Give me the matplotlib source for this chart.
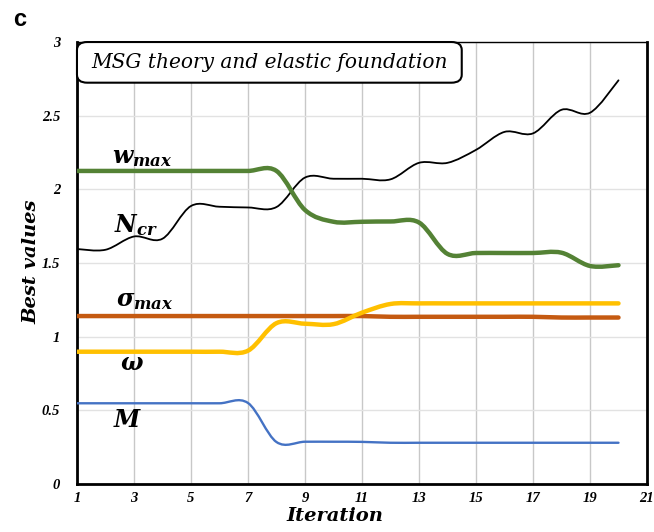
import numpy as np
import matplotlib
matplotlib.use("Agg")
from matplotlib import pyplot as plt
from matplotlib.path import Path
from matplotlib.patches import PathPatch, FancyBboxPatch

plt.rcParams["mathtext.fontset"] = "custom"
plt.rcParams["mathtext.it"] = "DejaVu Serif:italic:bold"
plt.rcParams["mathtext.rm"] = "DejaVu Serif:bold"
plt.rcParams["mathtext.bf"] = "DejaVu Serif:bold"

iteration = list(range(1, 21))
n_cr = [1.595, 1.59, 1.68, 1.665, 1.887, 1.882, 1.877, 1.88, 2.08, 2.072,
        2.072, 2.068, 2.18, 2.18, 2.268, 2.39, 2.38, 2.54, 2.52, 2.74]
w_max = [2.125, 2.125, 2.125, 2.125, 2.125, 2.125, 2.125, 2.125, 1.86, 1.78,
         1.78, 1.782, 1.775, 1.562, 1.568, 1.568, 1.568, 1.57, 1.48, 1.485]
sigma_max = [1.14] * 11 + [1.135] * 6 + [1.13] * 3
omega = [0.898, 0.898, 0.898, 0.898, 0.898, 0.898, 0.905, 1.092, 1.088, 1.085,
         1.163, 1.222, 1.226, 1.226, 1.226, 1.226, 1.226, 1.226, 1.226, 1.226]
m_val = [0.548, 0.548, 0.548, 0.548, 0.548, 0.548, 0.55, 0.285, 0.287, 0.287,
         0.286, 0.28, 0.28, 0.28, 0.28, 0.28, 0.28, 0.28, 0.28, 0.28]

x_ticks = list(range(1, 22, 2))
y_ticks = [0, 0.5, 1, 1.5, 2, 2.5, 3]
y_tick_labels = ["0", "0.5", "1", "1.5", "2", "2.5", "3"]


def smooth_path(xs, ys):
    """Bezier path through the points, same smoothing as spreadsheet charts."""
    pts = np.column_stack([xs, ys]).astype(float)
    verts = [pts[0]]
    codes = [Path.MOVETO]
    n = len(pts)
    for i in range(n - 1):
        p0 = pts[i - 1] if i > 0 else pts[i]
        p1 = pts[i]
        p2 = pts[i + 1]
        p3 = pts[i + 2] if i + 2 < n else pts[i + 1]
        c1 = p1 + (p2 - p0) / 6.0
        c2 = p2 - (p3 - p1) / 6.0
        verts += [c1, c2, p2]
        codes += [Path.CURVE4] * 3
    return Path(verts, codes)


series = [
    (n_cr, "#000000", 1.3),
    (w_max, "#548235", 3.2),
    (sigma_max, "#C55A11", 3.2),
    (omega, "#FFC000", 3.2),
    (m_val, "#4472C4", 1.7),
]

fig = plt.figure(figsize=(6.54, 5.32), dpi=100)
ax = fig.add_axes([0.1177, 0.0902, 0.8716, 0.8308])

for ys, color, lw in series:
    ax.add_patch(PathPatch(smooth_path(iteration, ys), facecolor="none",
                           edgecolor=color, lw=lw, capstyle="round", zorder=3))

ax.set_xlim(1, 21)
ax.set_ylim(0, 3)
ax.set_xticks(x_ticks)
ax.set_yticks(y_ticks)
ax.set_yticklabels(y_tick_labels)
ax.tick_params(length=0)
ax.tick_params(axis="x", pad=6)
ax.tick_params(axis="y", pad=12)
for lab in ax.get_xticklabels() + ax.get_yticklabels():
    lab.set_fontfamily("Liberation Serif")
    lab.set_fontstyle("italic")
    lab.set_fontweight("bold")
    lab.set_fontsize(10.5)

ax.xaxis.grid(True, color="#c8c8c8", lw=1.0, zorder=0)
ax.yaxis.grid(True, color="#e2e2e2", lw=1.0, zorder=0)
ax.set_axisbelow(True)
for side in ["left", "bottom", "right"]:
    ax.spines[side].set_linewidth(2.0)
ax.spines["top"].set_linewidth(1.0)

label_font = dict(family="DejaVu Serif", style="italic", weight="bold", size=14)
ax.set_xlabel("Iteration", **label_font)
ax.set_ylabel("Best values", **label_font)
ax.xaxis.set_label_coords(0.453, -0.052)
ax.yaxis.set_label_coords(-0.064, 0.503)

curve_font = dict(fontsize=17, ha="left", va="center")
ax.text(2.24, 2.22, r"$w_{max}$", **curve_font)
ax.text(2.30, 1.76, r"$N_{cr}$", **curve_font)
ax.text(2.38, 1.25, r"$\sigma_{max}$", **curve_font)
ax.text(2.93, 0.82, r"$\omega$", fontsize=17, ha="center", va="center")
ax.text(2.79, 0.434, r"$M$", fontsize=17, ha="center", va="center")

box = FancyBboxPatch((0.0, 0.908), 0.675, 0.092,
                     boxstyle="round,pad=0,rounding_size=0.018",
                     transform=ax.transAxes, facecolor="white",
                     edgecolor="black", lw=1.5, zorder=5, clip_on=False)
ax.add_patch(box)
ax.text(0.3375, 0.954, "MSG theory and elastic foundation",
        transform=ax.transAxes, ha="center", va="center", zorder=6,
        family="DejaVu Serif", style="italic", size=14.5)

fig.text(0.02, 0.963, "c", family="Liberation Sans", weight="bold",
         size=17, ha="left", va="center")

fig.savefig("out.png", dpi=100)
